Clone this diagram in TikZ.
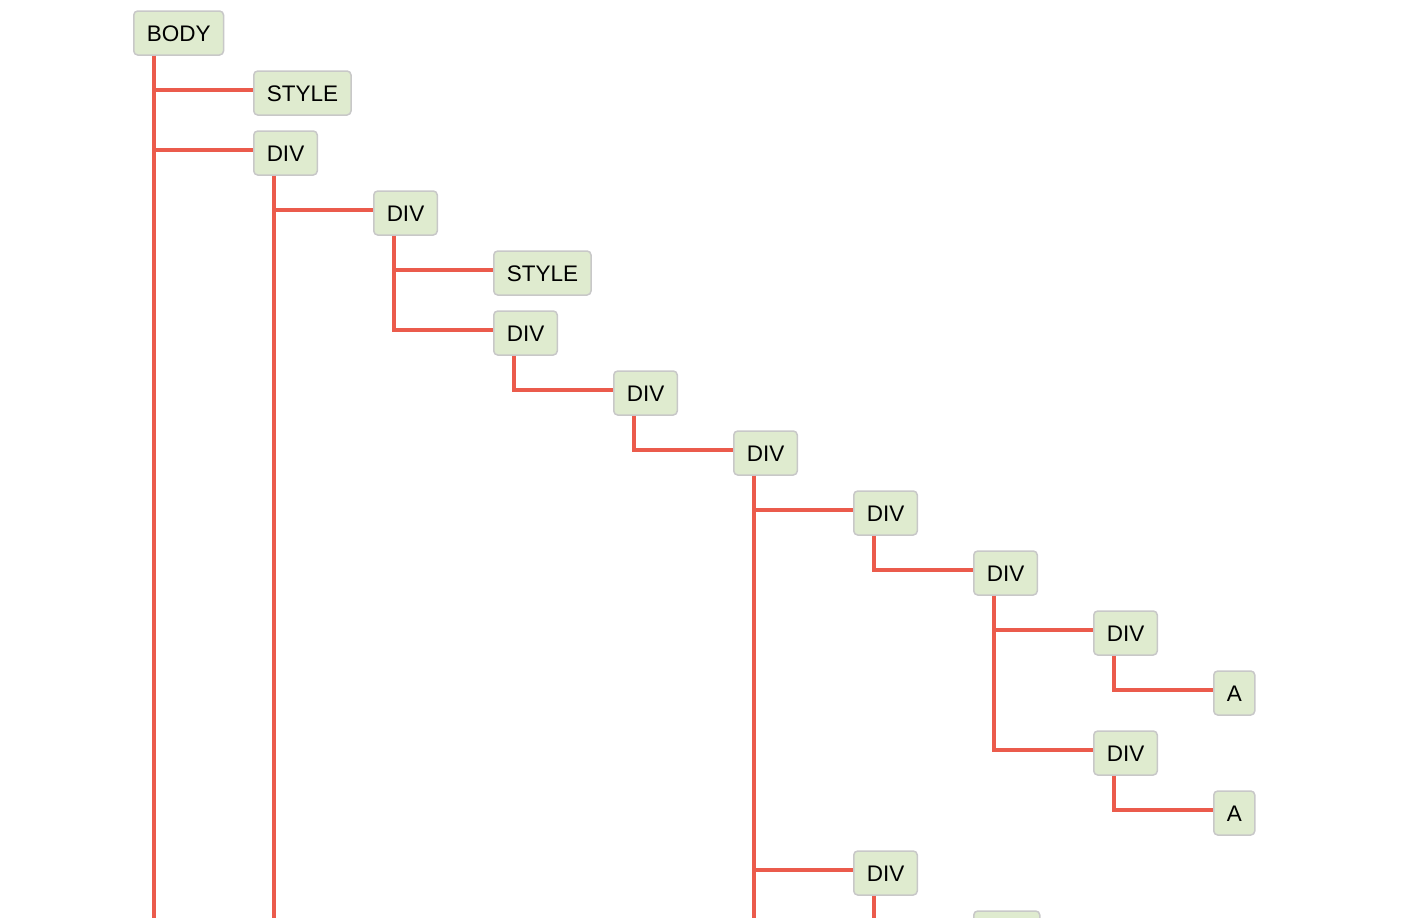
\documentclass[tikz,border=0pt]{standalone}
\usepackage{fontspec}
\setmainfont{Liberation Sans}
\definecolor{linkred}{HTML}{EB5B4C}
\definecolor{boxfill}{HTML}{DFEBCF}
\definecolor{boxline}{HTML}{C8C8C8}
\tikzset{
  tag/.style={draw=boxline, line width=1.5pt, fill=boxfill, rounded corners=4pt,
    minimum height=44pt, inner xsep=13pt, inner ysep=0pt, anchor=west,
    font=\fontsize{22.5}{25}\selectfont, text height=17pt, text depth=0pt},
  link/.style={draw=linkred, line width=3.2pt},
}
\newcommand{\down}[2]{\draw[link] ([xshift=21pt]#1.south west) |- ([yshift=3pt]#2.west);}
\begin{document}
\begin{tikzpicture}[x=1pt,y=-1pt]
\useasboundingbox (0,0) rectangle (1408,918);
\clip (0,0) rectangle (1408,918);
\fill[white] (0,0) rectangle (1408,918);
\coordinate (b0) at (154,930);
\coordinate (b1) at (274,930);
\coordinate (b5) at (754,930);
\node[tag] (body) at (133,33) {BODY};
\node[tag] (style1) at (253,93) {STYLE};
\node[tag] (div1) at (253,153) {DIV};
\node[tag] (div2) at (373,213) {DIV};
\node[tag] (style2) at (493,273) {STYLE};
\node[tag] (div3) at (493,333) {DIV};
\node[tag] (div4) at (613,393) {DIV};
\node[tag] (div5) at (733,453) {DIV};
\node[tag] (div6) at (853,513) {DIV};
\node[tag] (div7) at (973,573) {DIV};
\node[tag] (div8) at (1093,633) {DIV};
\node[tag] (a1) at (1213,693) {A};
\node[tag] (div9) at (1093,753) {DIV};
\node[tag] (a2) at (1213,813) {A};
\node[tag] (div10) at (853,873) {DIV};
\node[tag, minimum width=66pt] (div11) at (973,933) {};
\draw[link] ([xshift=21pt]body.south west) -- (b0);
\down{body}{style1}
\down{body}{div1}
\draw[link] ([xshift=21pt]div1.south west) -- (b1);
\down{div1}{div2}
\down{div2}{style2}
\down{div2}{div3}
\down{div3}{div4}
\down{div4}{div5}
\draw[link] ([xshift=21pt]div5.south west) -- (b5);
\down{div5}{div6}
\down{div5}{div10}
\down{div6}{div7}
\down{div7}{div8}
\down{div7}{div9}
\down{div8}{a1}
\down{div9}{a2}
\down{div10}{div11}
\end{tikzpicture}
\end{document}
